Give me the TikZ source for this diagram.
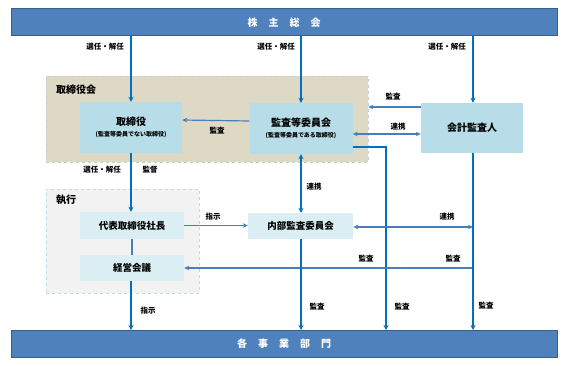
\documentclass[tikz,border=0pt]{standalone}
\usepackage{fontspec}
\setmainfont{Noto Sans CJK JP}
\usetikzlibrary{arrows.meta}
\definecolor{barfill}{HTML}{4F81BD}
\definecolor{bardraw}{HTML}{385D8A}
\definecolor{tan}{HTML}{DDD9C4}
\definecolor{lblue}{HTML}{B7DEE8}
\definecolor{vlblue}{HTML}{DAEEF3}
\definecolor{execfill}{HTML}{F2F2F2}
\definecolor{arr}{HTML}{0070C0}
\definecolor{harr}{HTML}{4A7EBB}
\tikzset{
  bar/.style={draw=bardraw, line width=1pt, fill=barfill, text=white, font=\bfseries\fontsize{10}{12}\selectfont, minimum width=546pt, minimum height=27pt, inner sep=0pt},
  mainbox/.style={fill=lblue, align=center, font=\bfseries\fontsize{10}{12}\selectfont, inner sep=0pt},
  subbox/.style={fill=vlblue, font=\bfseries\fontsize{9.5}{11}\selectfont, inner sep=0pt, minimum height=26pt},
  grp/.style={draw=gray!40, dashed, line width=0.4pt, inner sep=0pt},
  lbl/.style={font=\bfseries\fontsize{7.5}{9}\selectfont, inner sep=0pt},
  grplbl/.style={font=\bfseries\fontsize{10}{12}\selectfont, inner sep=0pt, anchor=west},
  va/.style={draw=arr, line width=1.5pt, -{Stealth[length=5pt,width=5pt]}},
  vl/.style={draw=arr, line width=1.5pt},
  ha/.style={draw=harr, line width=1.2pt, -{Stealth[length=5pt,width=4.5pt]}},
  hda/.style={draw=harr, line width=1.2pt, {Stealth[length=5pt,width=4.5pt]}-{Stealth[length=5pt,width=4.5pt]}},
  hl/.style={draw=harr, line width=1.2pt},
}
\newcommand{\sub}[1]{\\[-1pt]{\fontsize{6}{7}\selectfont #1}}
\begin{document}
\begin{tikzpicture}[x=1pt,y=-1pt]
\useasboundingbox (0,0) rectangle (567,366);
% groups
\node[grp, fill=tan, minimum width=322pt, minimum height=86pt] (board) at (207,119) {};
\node[grp, draw=lblue, fill=execfill, minimum width=153pt, minimum height=104pt] (exec) at (122.5,241) {};
\node[grplbl] (boardlbl) at (56,90) {取締役会};
\node[grplbl] (execlbl) at (56,200) {執行};
% bars
\node[bar] (top) at (284,22.5) {株\hspace{11pt}主\hspace{11pt}総\hspace{11pt}会};
\node[bar] (bot) at (284,344) {各\hspace{11pt}事\hspace{11pt}業\hspace{11pt}部\hspace{11pt}門};
% boxes
\node[mainbox, minimum width=102pt, minimum height=51pt] (tor) at (131,127.5) {取締役\sub{(監査等委員でない取締役)}};
\node[mainbox, minimum width=103pt, minimum height=51pt] (kansa) at (301,128.5) {監査等委員会\sub{(監査等委員である取締役)}};
\node[mainbox, minimum width=102pt, minimum height=50pt] (kaikei) at (472,128) {会計監査人};
\node[subbox, minimum width=104pt, minimum height=27pt] (daihyo) at (132,225.5) {代表取締役社長};
\node[subbox, minimum width=104pt] (keiei) at (132,268) {経営会議};
\node[subbox, minimum width=105pt] (naibu) at (300.5,226) {内部監査委員会};
% coordinates
\coordinate (c1) at (386,147);
\coordinate (c2) at (473,227);
\coordinate (c3) at (473,268);
% top arrows
\draw[va] (top.south -| tor.north) -- (tor.north);
\draw[va] (top.south -| kansa.north) -- (kansa.north);
\draw[va] (top.south -| c2) -- (kaikei.north -| c2);
\node[lbl, anchor=east] (l1) at (124,47) {選任・解任};
\node[lbl, anchor=east] (l2) at (295,47) {選任・解任};
\node[lbl, anchor=east] (l3) at (466,47) {選任・解任};
% board internal
\draw[ha] ([yshift=7.5pt]kansa.west) -- ([yshift=7.5pt]tor.east);
\node[lbl] (l4) at (217,131) {監査};
\draw[ha] ([yshift=21pt]kaikei.west) -- ([yshift=21pt]kaikei.west -| board.east);
\node[lbl] (l5) at (393,97) {監査};
\draw[hda] ([yshift=-5.5pt]kansa.east) -- ([yshift=-6pt]kaikei.west);
\node[lbl] (l6) at (398,127) {連携};
\draw[va] (kansa.east |- c1) -- (c1) -- (bot.north -| c1);
\node[lbl] (l7) at (402,307) {監査};
% kansa - naibu
\draw[va, {Stealth[length=5pt,width=5pt]}-{Stealth[length=5pt,width=5pt]}] (kansa.south) -- (naibu.north -| kansa.south);
\node[lbl] (l8) at (314,187) {連携};
% tor -> daihyo
\draw[va] (tor.south) -- (daihyo.north -| tor.south);
\node[lbl] (l9) at (102,170) {選任・解任};
\node[lbl] (l10) at (150,170) {監督};
% daihyo - keiei
\draw[draw=harr, line width=1.2pt] (daihyo.south) -- (keiei.north);
% keiei -> bot
\draw[va] (keiei.south -| tor.south) -- (bot.north -| tor.south);
\node[lbl] (l11) at (148,311) {指示};
% daihyo -> naibu
\draw[ha] (daihyo.east) -- (naibu.west |- daihyo.east);
\node[lbl] (l12) at (213,217) {指示};
% naibu <-> kaikei line
\draw[hda] (naibu.east |- c2) -- (c2);
\node[lbl] (l13) at (447,217) {連携};
% audit line to keiei
\draw[ha] (c3) -- (keiei.east |- c3);
\node[lbl] (l14) at (366,259) {監査};
\node[lbl] (l15) at (453,259) {監査};
% downs
\draw[va] (naibu.south -| kansa.south) -- (bot.north -| kansa.south);
\node[lbl] (l16) at (317,307) {監査};
\draw[va] (kaikei.south -| c2) -- (bot.north -| c2);
\node[lbl] (l17) at (486,306) {監査};
\end{tikzpicture}
\end{document}
